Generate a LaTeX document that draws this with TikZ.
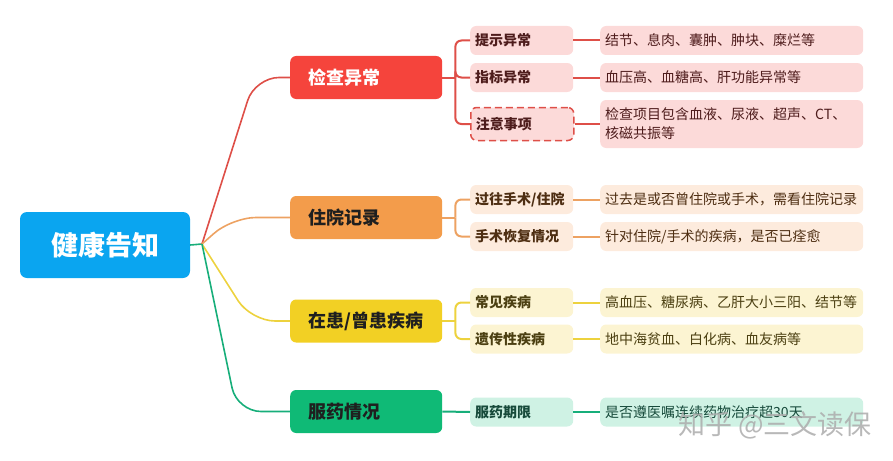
\documentclass[tikz,border=0pt]{standalone}
\usepackage{fontspec}
\setmainfont{Noto Sans CJK SC}
\newfontfamily\heavyfont{Noto Sans CJK SC Black}
\definecolor{rootBlue}{HTML}{0AA5F0}
\definecolor{redMain}{HTML}{F5443C}
\definecolor{redLine}{HTML}{DE4F48}
\definecolor{redLight}{HTML}{FCDAD9}
\definecolor{redText}{HTML}{4E1C1C}
\definecolor{orgMain}{HTML}{F39C4B}
\definecolor{orgLine}{HTML}{EDA262}
\definecolor{orgLight}{HTML}{FDEBDD}
\definecolor{orgText}{HTML}{4E2E12}
\definecolor{ylwMain}{HTML}{F2D024}
\definecolor{ylwLine}{HTML}{EDD23E}
\definecolor{ylwLight}{HTML}{FCF4D2}
\definecolor{ylwText}{HTML}{4C4012}
\definecolor{grnMain}{HTML}{0FBA76}
\definecolor{grnLine}{HTML}{17AE7A}
\definecolor{grnLight}{HTML}{CFF2E4}
\definecolor{grnText}{HTML}{164A3A}
\tikzset{
  rootbox/.style={fill=rootBlue, text=white, rounded corners=7pt, minimum height=66pt, text width=170pt, inner xsep=0pt, align=center, font=\fontsize{27}{30}\selectfont\heavyfont},
  topicbox/.style={rounded corners=6pt, minimum height=43pt, text width=116pt, inner xsep=18pt, align=left, anchor=west, font=\fontsize{18}{21}\selectfont\heavyfont},
  subbox/.style={rounded corners=6pt, minimum height=29pt, text width=93pt, inner xsep=5pt, align=left, anchor=west, font=\fontsize{14}{17}\selectfont\bfseries},
  leafbox/.style={rounded corners=6pt, minimum height=29pt, text width=253pt, inner xsep=5pt, align=left, anchor=west, font=\fontsize{14}{19}\selectfont},
  mainlink/.style={line width=1.6pt, rounded corners=24pt},
  sublink/.style={line width=2pt, rounded corners=6pt}
}
\begin{document}
\begin{tikzpicture}[x=1pt, y=-1pt]
\useasboundingbox (0,0) rectangle (893,460);
\node[rootbox] (root) at (105,245) {健康告知};
\node[topicbox, fill=redMain, text=white] (chk) at (290,77.5) {检查异常};
\node[topicbox, fill=orgMain, text=black!88] (hosp) at (290,217.5) {住院记录};
\node[topicbox, fill=ylwMain, text=black!88] (ill) at (290,321) {在患/曾患疾病};
\node[topicbox, fill=grnMain, text=black!88] (med) at (290,411.5) {服药情况};
\node[subbox, fill=redLight, text=redText] (tip) at (470,40.5) {提示异常};
\node[subbox, fill=redLight, text=redText] (idx) at (470,77.5) {指标异常};
\node[subbox, fill=redLight, text=redText, draw=redLine, dash pattern=on 7pt off 4pt, line width=1.5pt, minimum height=33pt] (note) at (470,124) {注意事项};
\node[subbox, fill=orgLight, text=orgText] (past) at (470,199.5) {过往手术/住院};
\node[subbox, fill=orgLight, text=orgText] (recov) at (470,236.5) {手术恢复情况};
\node[subbox, fill=ylwLight, text=ylwText] (comm) at (470,302.5) {常见疾病};
\node[subbox, fill=ylwLight, text=ylwText] (gene) at (470,339) {遗传性疾病};
\node[subbox, fill=grnLight, text=grnText] (term) at (470,412) {服药期限};
\node[leafbox, fill=redLight, text=redText] (tipD) at (600,40.5) {结节、息肉、囊肿、肿块、糜烂等};
\node[leafbox, fill=redLight, text=redText] (idxD) at (600,77.5) {血压高、血糖高、肝功能异常等};
\node[leafbox, fill=redLight, text=redText, minimum height=48pt] (noteD) at (600,124) {检查项目包含血液、尿液、超声、CT、\\核磁共振等};
\node[leafbox, fill=orgLight, text=orgText] (pastD) at (600,199.5) {过去是或否曾住院或手术，需看住院记录};
\node[leafbox, fill=orgLight, text=orgText] (recovD) at (600,236.5) {针对住院/手术的疾病，是否已痊愈};
\node[leafbox, fill=ylwLight, text=ylwText] (commD) at (600,302.5) {高血压、糖尿病、乙肝大小三阳、结节等};
\node[leafbox, fill=ylwLight, text=ylwText] (geneD) at (600,339) {地中海贫血、白化病、血友病等};
\node[leafbox, fill=grnLight, text=grnText] (termD) at (600,412) {是否遵医嘱连续药物治疗超30天};
\coordinate (hub) at (202,244);
\draw[grnLine, line width=1.6pt] (root.east) -- (hub);
\draw[mainlink, redLine] (hub) -- (255,77.5) -- (chk.west);
\draw[mainlink, orgLine] (hub) -- (232,217.5) -- (hosp.west);
\draw[mainlink, ylwLine] (hub) -- (251,321) -- (ill.west);
\draw[mainlink, grnLine] (hub) -- (237,411.5) -- (med.west);
\draw[sublink, redLine] (chk.east) -- ++(13,0) coordinate (chkJ);
\draw[sublink, redLine] (chkJ) |- (tip.west);
\draw[sublink, redLine] (chkJ) |- (idx.west);
\draw[sublink, redLine] (chkJ) |- (note.west);
\draw[sublink, orgLine] (hosp.east) -- ++(13,0) coordinate (hospJ);
\draw[sublink, orgLine] (hospJ) |- (past.west);
\draw[sublink, orgLine] (hospJ) |- (recov.west);
\draw[sublink, ylwLine] (ill.east) -- ++(13,0) coordinate (illJ);
\draw[sublink, ylwLine] (illJ) |- (comm.west);
\draw[sublink, ylwLine] (illJ) |- (gene.west);
\draw[sublink, grnLine] (med.east) -- (term.west);
\draw[sublink, redLine] (tip.east) -- (tipD.west);
\draw[sublink, redLine] (idx.east) -- (idxD.west);
\draw[sublink, redLine] (note.east) -- (noteD.west);
\draw[sublink, orgLine] (past.east) -- (pastD.west);
\draw[sublink, orgLine] (recov.east) -- (recovD.west);
\draw[sublink, ylwLine] (comm.east) -- (commD.west);
\draw[sublink, ylwLine] (gene.east) -- (geneD.west);
\draw[sublink, grnLine] (term.east) -- (termD.west);
\node[text=gray!65, opacity=0.85, font=\fontsize{27}{30}\selectfont] (mark) at (775,425) {知乎 @三文读保};
\end{tikzpicture}
\end{document}
